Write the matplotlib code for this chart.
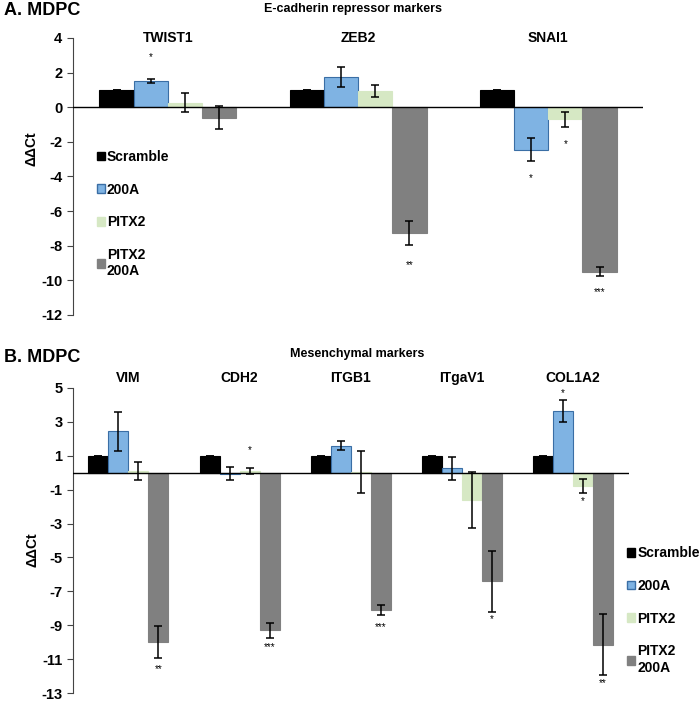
import numpy as np
import matplotlib
matplotlib.use("Agg")
import matplotlib.pyplot as plt
from matplotlib.patches import Patch

plt.rcParams['font.family'] = ['Liberation Sans', 'DejaVu Sans']
plt.rcParams['font.weight'] = 'bold'
plt.rcParams['axes.unicode_minus'] = False

series = ["Scramble", "200A", "PITX2", "PITX2\n200A"]
colors = ["#000000", "#7fb3e3", "#d6e8c4", "#808080"]
edges = ["#000000", "#3a6ea5", "#d6e8c4", "#808080"]

# panel A : E-cadherin repressor markers
genes_a = ["TWIST1", "ZEB2", "SNAI1"]
vals_a = [[1.0, 1.0, 1.0],
          [1.5, 1.75, -2.45],
          [0.25, 0.95, -0.7],
          [-0.6, -7.25, -9.5]]
errs_a = [[0, 0, 0],
          [0.1, 0.57, 0.65],
          [0.55, 0.35, 0.45],
          [0.65, 0.7, 0.25]]
# (gene index, series index, label, y position)
stars_a = [(0, 1, "*", 2.9), (1, 3, "**", -9.1), (2, 1, "*", -4.1),
           (2, 2, "*", -2.15), (2, 3, "***", -10.65)]

# panel B : mesenchymal markers
genes_b = ["VIM", "CDH2", "ITGB1", "ITgaV1", "COL1A2"]
vals_b = [[1.0, 1.0, 1.0, 1.0, 1.0],
          [2.45, -0.05, 1.6, 0.25, 3.65],
          [0.1, 0.1, 0.05, -1.6, -0.8],
          [-10.0, -9.3, -8.1, -6.4, -10.15]]
errs_b = [[0, 0, 0, 0, 0],
          [1.15, 0.4, 0.25, 0.7, 0.65],
          [0.55, 0.2, 1.25, 1.65, 0.4],
          [0.95, 0.45, 0.27, 1.8, 1.8]]
stars_b = [(0, 3, "**", -11.6), (1, 2, "*", 1.35), (1, 3, "***", -10.3),
           (2, 3, "***", -9.1), (3, 3, "*", -8.65), (4, 1, "*", 4.7),
           (4, 2, "*", -1.7), (4, 3, "**", -12.4)]

width = 0.18
offsets = (np.arange(4) - 1.5) * width


def draw_panel(ax, genes, vals, errs, stars, ylim, yticks, label_y, ylab_pos):
    x = np.arange(len(genes))
    for i in range(4):
        ax.bar(x + offsets[i], vals[i], width, color=colors[i],
               edgecolor=edges[i], linewidth=0.8, zorder=2)
        ax.errorbar(x + offsets[i], vals[i], yerr=errs[i], fmt='none',
                    ecolor='black', elinewidth=1.1, capsize=3.2,
                    capthick=1.1, zorder=3)
    for g, s, lab, yy in stars:
        ax.text(x[g] + offsets[s], yy, lab, ha='center', va='center',
                fontsize=7, fontweight='normal')
    for i, g in enumerate(genes):
        ax.text(x[i], label_y, g, ha='center', va='center', fontsize=10,
                fontweight='bold')
    ax.axhline(0, color='black', linewidth=1.0, zorder=4)
    ax.set_xlim(-0.5, len(genes) - 0.5)
    ax.set_ylim(*ylim)
    ax.set_yticks(yticks)
    ax.set_xticks([])
    for sp in ["top", "right", "bottom"]:
        ax.spines[sp].set_visible(False)
    ax.spines["left"].set_color("#444444")
    ax.tick_params(axis='y', labelsize=10.5, length=4, color="#444444")
    for t in ax.get_yticklabels():
        t.set_fontweight('bold')
    ax.set_ylabel("ΔΔCt", fontsize=10, fontweight='bold', labelpad=3)
    ax.yaxis.set_label_coords(-0.06, ylab_pos)


fig = plt.figure(figsize=(7.0, 7.04), dpi=100)

ax_a = fig.add_axes([0.104, 0.5526, 0.815, 0.3935])
draw_panel(ax_a, genes_a, vals_a, errs_a, stars_a, (-12, 4),
           np.arange(-12, 5, 2), 4.0, 0.6)

ax_b = fig.add_axes([0.104, 0.0156, 0.794, 0.4333])
draw_panel(ax_b, genes_b, vals_b, errs_b, stars_b, (-13, 5),
           np.arange(-13, 6, 2), 5.6, 0.47)

fig.text(0.005, 0.985, "A. MDPC", fontsize=13, fontweight='bold', va='center')
fig.text(0.505, 0.987, "E-cadherin repressor markers", fontsize=9,
         fontweight='bold', ha='center', va='center')
fig.text(0.005, 0.492, "B. MDPC", fontsize=13, fontweight='bold', va='center')
fig.text(0.51, 0.497, "Mesenchymal markers", fontsize=9,
         fontweight='bold', ha='center', va='center')

handles = [Patch(facecolor=colors[i], edgecolor=edges[i]) for i in range(4)]
leg_kw = dict(frameon=False, fontsize=10, handlelength=0.6, handleheight=0.6,
              handletextpad=0.15, labelspacing=1.35, borderaxespad=0)
fig.legend(handles, series, loc='upper left',
           bbox_to_anchor=(0.13, 0.795), **leg_kw)
fig.legend(handles, series, loc='upper left',
           bbox_to_anchor=(0.888, 0.232), **leg_kw)

fig.savefig("out.png", dpi=100)
